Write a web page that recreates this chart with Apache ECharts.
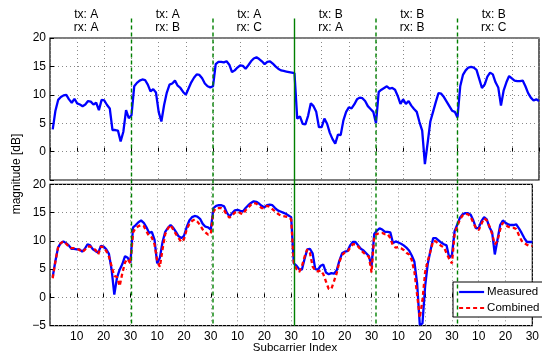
<!DOCTYPE html>
<html>
<head>
<meta charset="utf-8">
<script src="https://cdn.jsdelivr.net/npm/echarts@6/dist/echarts.min.js"></script>
<style>
  html, body { margin: 0; padding: 0; background: #fff; }
  #main { width: 542px; height: 354px; }
</style>
</head>
<body>
<div id="main"></div>
<script>
// subcarrier index 1..180 (six links of 30 subcarriers)
var subcarrier = [];
for (var i = 1; i <= 180; i++) subcarrier.push(i);

// link boundaries and link names
var boundaries = [30, 60, 90, 120, 150];
var linkLabels = ['tx: A\nrx: A', 'tx: A\nrx: B', 'tx: A\nrx: C',
                  'tx: B\nrx: A', 'tx: B\nrx: B', 'tx: B\nrx: C'];

// upper panel, measured magnitude [dB]
var topMeasured = [
  3.9, 7.2, 9.1, 9.6, 9.9, 10.0, 9.2, 8.6, 9.3, 8.5, 8.3, 8.0, 8.3, 8.9, 8.8, 8.3, 8.6, 7.3, 9.1, 9.0, 8.2, 7.6, 3.8, 3.8, 3.7, 1.8, 3.5, 7.3, 5.9, 6.4,
  11.5, 12.1, 12.5, 12.7, 12.6, 11.8, 10.6, 11.0, 10.4, 7.0, 5.3, 8.2, 10.4, 11.8, 12.0, 12.5, 11.6, 11.2, 10.5, 10.0, 11.1, 12.2, 13.0, 13.6, 13.5, 12.9, 12.0, 11.5, 11.3, 11.5,
  15.4, 15.8, 15.8, 15.7, 15.9, 15.3, 14.0, 14.3, 14.8, 15.2, 15.1, 14.6, 15.2, 15.9, 16.4, 16.6, 16.3, 15.9, 15.4, 15.8, 15.9, 15.5, 15.0, 14.6, 14.3, 14.2, 14.1, 14.0, 13.9, 13.8,
  5.8, 6.2, 4.9, 4.8, 6.3, 8.5, 8.0, 7.0, 4.3, 4.3, 5.8, 4.9, 3.3, 2.2, 1.4, 3.0, 2.9, 5.5, 7.0, 7.8, 7.6, 8.3, 9.2, 9.5, 9.4, 8.9, 8.0, 7.5, 7.0, 5.0,
  10.5, 10.9, 11.2, 11.5, 11.1, 11.2, 10.9, 9.8, 8.4, 9.2, 8.4, 8.9, 8.1, 7.5, 7.0, 5.2, 3.7, -2.2, 1.5, 5.3, 7.0, 8.7, 10.3, 10.2, 9.6, 8.8, 8.0, 7.2, 7.0, 6.0,
  11.5, 13.5, 14.3, 14.8, 14.9, 14.8, 14.4, 12.8, 11.2, 11.8, 13.2, 13.9, 13.6, 12.2, 11.3, 8.1, 10.8, 12.2, 13.3, 12.9, 12.5, 12.4, 12.4, 12.5, 11.5, 10.3, 9.5, 9.0, 9.2, 8.9
];

// lower panel, measured magnitude [dB]
var bottomMeasured = [
  3.6, 6.4, 8.8, 9.6, 9.9, 9.6, 9.2, 8.6, 8.6, 8.5, 8.5, 8.1, 8.6, 9.4, 9.2, 8.5, 8.2, 7.9, 9.1, 9.0, 8.5, 7.7, 4.9, 0.5, 3.5, 4.9, 5.9, 7.3, 7.0, 6.1,
  12.4, 12.8, 13.3, 13.6, 13.2, 12.4, 11.4, 11.6, 10.2, 6.0, 7.0, 9.8, 11.6, 12.3, 12.8, 12.3, 11.6, 10.8, 10.5, 10.9, 12.4, 13.6, 14.2, 14.4, 14.3, 13.9, 13.0, 12.5, 12.4, 12.0,
  15.8, 16.2, 16.3, 16.3, 16.1, 15.0, 14.3, 14.9, 15.4, 15.5, 15.3, 15.2, 15.8, 16.3, 16.7, 17.0, 16.9, 16.6, 16.2, 15.9, 16.3, 16.4, 16.3, 15.8, 15.4, 15.2, 15.0, 14.8, 14.5, 14.2,
  6.0, 5.6, 5.0, 4.9, 6.8, 8.5, 8.6, 7.8, 5.0, 4.9, 5.6, 5.8, 4.4, 4.1, 4.3, 4.2, 4.8, 6.5, 7.8, 8.1, 8.2, 9.2, 9.8, 9.8, 9.2, 8.6, 8.3, 7.8, 7.3, 5.5,
  11.2, 11.8, 12.2, 12.0, 11.6, 11.6, 11.5, 9.6, 9.9, 9.7, 9.5, 9.2, 8.8, 8.3, 7.4, 6.3, 2.5, -4.8, -4.6, 2.0, 6.0, 8.3, 10.5, 10.5, 10.1, 9.7, 9.4, 9.2, 7.0, 7.5,
  11.7, 12.9, 14.1, 14.7, 14.9, 14.9, 14.6, 13.6, 12.2, 12.3, 13.5, 14.2, 13.8, 12.4, 11.5, 7.6, 10.2, 12.8, 13.6, 13.2, 12.9, 12.8, 12.8, 12.9, 12.2, 11.4, 10.5, 9.8, 9.8, 9.8
];

// lower panel, combined estimate [dB]
var bottomCombined = [
  3.4, 6.3, 8.8, 9.6, 9.9, 9.5, 9.0, 8.7, 8.7, 8.6, 8.4, 8.0, 8.4, 9.0, 9.0, 8.7, 8.4, 7.6, 9.0, 8.9, 8.2, 7.2, 5.5, 3.8, 3.6, 2.0, 4.3, 6.2, 6.8, 6.0,
  11.5, 12.3, 12.6, 12.8, 12.6, 11.7, 10.8, 10.6, 9.4, 6.5, 5.4, 8.5, 11.2, 12.2, 12.8, 12.0, 11.2, 10.5, 9.8, 10.3, 12.0, 13.0, 13.5, 13.8, 13.4, 12.8, 12.0, 11.5, 11.1, 11.2,
  15.2, 15.8, 15.8, 15.8, 15.4, 14.6, 14.1, 14.5, 15.0, 15.2, 14.9, 14.7, 15.4, 15.9, 16.4, 16.7, 16.6, 16.2, 15.8, 15.8, 16.2, 16.0, 15.6, 15.2, 14.8, 14.5, 14.4, 14.3, 14.2, 13.8,
  6.1, 5.0, 4.5, 5.5, 7.2, 8.5, 7.9, 5.5, 4.7, 4.6, 4.8, 4.1, 2.8, 1.5, 1.5, 2.9, 4.3, 6.3, 7.5, 7.9, 8.0, 8.8, 9.4, 9.4, 9.0, 8.4, 7.9, 7.5, 7.2, 4.4,
  10.9, 11.2, 11.4, 11.4, 11.2, 11.2, 10.5, 9.1, 8.8, 8.9, 8.7, 8.4, 7.9, 7.6, 6.6, 4.5, 0.5, -3.6, -0.5, 4.5, 6.5, 8.2, 10.0, 9.9, 9.5, 9.1, 8.9, 7.8, 6.8, 6.0,
  11.2, 12.6, 13.8, 14.5, 14.8, 14.7, 14.2, 13.2, 12.2, 11.9, 13.0, 14.0, 13.6, 12.6, 11.2, 9.4, 10.0, 12.0, 13.2, 12.8, 12.5, 12.3, 12.3, 12.1, 11.0, 10.0, 9.6, 9.3, 9.1, 9.1
];

function pairs(ys) {
  return ys.map(function (y, k) { return [subcarrier[k], y]; });
}

var FONT = '"Liberation Sans", Arial, sans-serif';
var dotted = { show: true, lineStyle: { color: '#888', type: [1, 3], width: 1 } };

function xAxisOf(gridIndex, showLabels) {
  return {
    type: 'value', gridIndex: gridIndex, min: 0, max: 180, interval: 10,
    axisLine: { show: false },
    axisTick: { show: true, inside: true, length: 4, lineStyle: { color: '#000' } },
    axisLabel: {
      show: showLabels, margin: 5, color: '#000', fontSize: 12, fontFamily: FONT,
      formatter: function (v) { return v === 0 ? '' : String(((v - 1) % 30) + 1); }
    },
    splitLine: dotted
  };
}

function yAxisOf(gridIndex, hideMin) {
  return {
    type: 'value', gridIndex: gridIndex, min: -5, max: 20, interval: 5,
    axisLine: { show: false },
    axisTick: { show: true, inside: true, length: 4, lineStyle: { color: '#000' } },
    axisLabel: {
      margin: 4, color: '#000', fontSize: 12, fontFamily: FONT,
      formatter: function (v) {
        if (v === -5 && hideMin) return '';
        return v < 0 ? '\u2212' + Math.abs(v) : String(v);
      }
    },
    splitLine: dotted
  };
}

var option = {
  animation: false,
  backgroundColor: '#fff',
  grid: [
    { left: 50, top: 38, width: 489, height: 142, show: true, borderColor: '#000', borderWidth: 1.2, backgroundColor: 'transparent' },
    { left: 50, top: 184.3, width: 489, height: 141.4, show: true, borderColor: '#000', borderWidth: 1.2, backgroundColor: 'transparent' }
  ],
  xAxis: [xAxisOf(0, false), xAxisOf(1, true)],
  yAxis: [yAxisOf(0, true), yAxisOf(1, false)],
  legend: {
    data: ['Measured', 'Combined'],
    orient: 'vertical', left: 453, top: 282,
    padding: [4, 5, 3, 5], itemGap: 4, itemWidth: 25, itemHeight: 14,
    backgroundColor: '#fff', borderColor: '#000', borderWidth: 1,
    itemStyle: { opacity: 0 },
    lineStyle: { width: 2.2 },
    textStyle: { fontSize: 11.5, fontFamily: FONT, color: '#000', padding: [0, 0, 0, -2] }
  },
  series: [
    {
      name: 'Measured', type: 'line', xAxisIndex: 0, yAxisIndex: 0,
      data: pairs(topMeasured), symbol: 'none', clip: true,
      lineStyle: { color: '#0000ff', width: 2.3 }, itemStyle: { color: '#0000ff' }
    },
    {
      name: 'Measured', type: 'line', xAxisIndex: 1, yAxisIndex: 1,
      data: pairs(bottomMeasured), symbol: 'none', clip: true,
      lineStyle: { color: '#0000ff', width: 2.3 }, itemStyle: { color: '#0000ff' }
    },
    {
      name: 'Combined', type: 'line', xAxisIndex: 1, yAxisIndex: 1,
      data: pairs(bottomCombined), symbol: 'none', clip: true,
      lineStyle: { color: '#ff0000', width: 2.3, type: [4, 3] }, itemStyle: { color: '#ff0000' }
    }
  ]
};

var chart = echarts.init(document.getElementById('main'), null, { renderer: 'canvas' });
chart.setOption(option);

// link separators, link names and axis titles
var yBottom = chart.convertToPixel({ yAxisIndex: 1 }, -5);
var elements = [];
boundaries.forEach(function (b) {
  var px = chart.convertToPixel({ xAxisIndex: 0 }, b);
  elements.push({
    type: 'line', z: 100,
    shape: { x1: px, y1: 18.5, x2: px, y2: yBottom },
    style: { stroke: '#008000', lineWidth: 1.4, lineDash: b === 90 ? null : [4, 3] }
  });
});
linkLabels.forEach(function (txt, k) {
  var px = chart.convertToPixel({ xAxisIndex: 0 }, k * 30 + 13.3);
  elements.push({
    type: 'text', x: px, y: 21, z: 100,
    style: { text: txt, fill: '#000', font: '12px ' + FONT, lineHeight: 12.5,
             align: 'center', verticalAlign: 'middle', textAlign: 'center', textVerticalAlign: 'middle' }
  });
});
elements.push({
  type: 'text', x: 16.5, y: 174, rotation: Math.PI / 2, z: 100,
  style: { text: 'magnitude [dB]', fill: '#000', font: '12px ' + FONT,
           align: 'center', verticalAlign: 'middle', textAlign: 'center', textVerticalAlign: 'middle' }
});
elements.push({
  type: 'text', x: 295, y: 347.5, z: 100,
  style: { text: 'Subcarrier Index', fill: '#000', font: '11.5px ' + FONT,
           align: 'center', verticalAlign: 'middle', textAlign: 'center', textVerticalAlign: 'middle' }
});
chart.setOption({ graphic: { elements: elements } });
</script>
</body>
</html>
